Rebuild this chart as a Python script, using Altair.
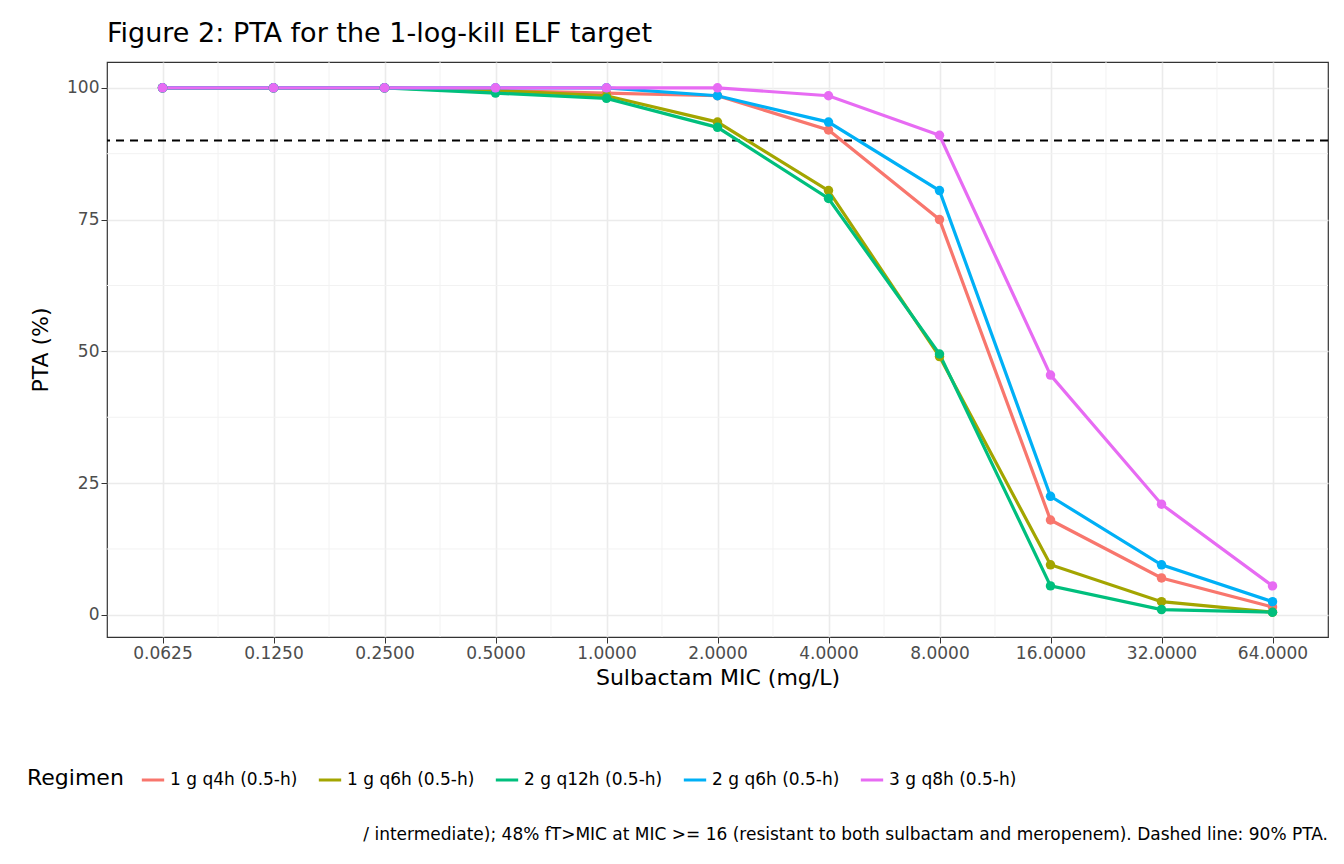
import altair as alt
import pandas as pd

mic = [0.0625, 0.125, 0.25, 0.5, 1, 2, 4, 8, 16, 32, 64]
regimens = ["1 g q4h (0.5-h)", "1 g q6h (0.5-h)", "2 g q12h (0.5-h)", "2 g q6h (0.5-h)", "3 g q8h (0.5-h)"]
pta = {
    "1 g q4h (0.5-h)": [100, 100, 100, 99.5, 99, 98.5, 92, 75, 18, 7, 1.5],
    "1 g q6h (0.5-h)": [100, 100, 100, 99.5, 98.5, 93.5, 80.5, 49, 9.5, 2.5, 0.5],
    "2 g q12h (0.5-h)": [100, 100, 100, 99, 98, 92.5, 79, 49.5, 5.5, 1, 0.5],
    "2 g q6h (0.5-h)": [100, 100, 100, 100, 100, 98.5, 93.5, 80.5, 22.5, 9.5, 2.5],
    "3 g q8h (0.5-h)": [100, 100, 100, 100, 100, 100, 98.5, 91, 45.5, 21, 5.5],
}
colors = ["#F8766D", "#A3A500", "#00BF7D", "#00B0F6", "#E76BF3"]
y_minor = [12.5, 37.5, 62.5, 87.5]
x_minor = [0.0884, 0.1768, 0.3536, 0.7071, 1.4142, 2.8284, 5.6569, 11.3137, 22.6274, 45.2548]
caption = "/ intermediate); 48% fT>MIC at MIC >= 16 (resistant to both sulbactam and meropenem). Dashed line: 90% PTA."

rows = [{"MIC": m, "PTA": v, "Regimen": r} for r in regimens for m, v in zip(mic, pta[r])]
df = pd.DataFrame(rows)

W, H = 1221, 575
xs = alt.Scale(type="log", base=2, domain=[0.0625 / 2 ** 0.5, 64 * 2 ** 0.5], nice=False)
ys = alt.Scale(domain=[-4.2, 104.9], nice=False, zero=False)

minor_y = alt.Chart(pd.DataFrame({"v": y_minor})).mark_rule(color="#f2f2f2", strokeWidth=1).encode(
    y=alt.Y("v:Q", scale=ys))
minor_x = alt.Chart(pd.DataFrame({"v": x_minor})).mark_rule(color="#f2f2f2", strokeWidth=1).encode(
    x=alt.X("v:Q", scale=xs))
ref = alt.Chart(pd.DataFrame({"v": [90]})).mark_rule(color="black", strokeDash=[8, 6], strokeWidth=2).encode(
    y=alt.Y("v:Q", scale=ys))

color = alt.Color("Regimen:N", scale=alt.Scale(domain=regimens, range=colors),
                  legend=alt.Legend(orient="none", legendX=-80, legendY=705, direction="horizontal",
                                    title="Regimen", titleOrient="left", titleFontSize=22,
                                    titleFontWeight="normal", titleColor="black", labelFontSize=17,
                                    labelColor="black", symbolType="stroke", symbolStrokeWidth=3,
                                    symbolSize=500, columnPadding=14, titleAnchor="middle",
                                    titleBaseline="middle", titlePadding=16))

base = alt.Chart(df).encode(
    x=alt.X("MIC:Q", scale=xs, title="Sulbactam MIC (mg/L)",
            axis=alt.Axis(values=mic, format=".4f", labelFlush=False)),
    y=alt.Y("PTA:Q", scale=ys, title="PTA (%)", axis=alt.Axis(values=[0, 25, 50, 75, 100])),
    color=color,
)
lines = base.mark_line(strokeWidth=3.2)
points = base.mark_point(filled=True, size=90, opacity=1)

cap = alt.Chart(pd.DataFrame({"t": [caption]})).mark_text(
    align="right", baseline="middle", fontSize=17, color="black", font="DejaVu Sans").encode(
    text="t:N", x=alt.value(W), y=alt.value(773))

chart = alt.layer(minor_y, minor_x, ref, lines, points, cap).properties(
    width=W, height=H,
    autosize=alt.AutoSizeParams(type="none"),
    padding={"left": 99, "top": 54, "right": 8, "bottom": 220},
    title=alt.TitleParams("Figure 2: PTA for the 1-log-kill ELF target", anchor="start", frame="group",
                          fontSize=27, fontWeight="normal", font="DejaVu Sans", offset=14),
).configure_view(stroke="#333333", strokeWidth=1.2).configure_axis(
    gridColor="#ebebeb", gridWidth=1.6, domain=False, tickColor="#333333", tickSize=6,
    labelFontSize=17, labelColor="#4d4d4d", labelFont="DejaVu Sans",
    titleFontSize=22, titleFontWeight="normal", titleFont="DejaVu Sans", titleColor="black",
).configure_axisY(titlePadding=14).configure_axisX(titlePadding=6).configure_legend(
    labelFont="DejaVu Sans", titleFont="DejaVu Sans")

chart.save("out.html", embed_options={"renderer": "svg", "actions": False})
